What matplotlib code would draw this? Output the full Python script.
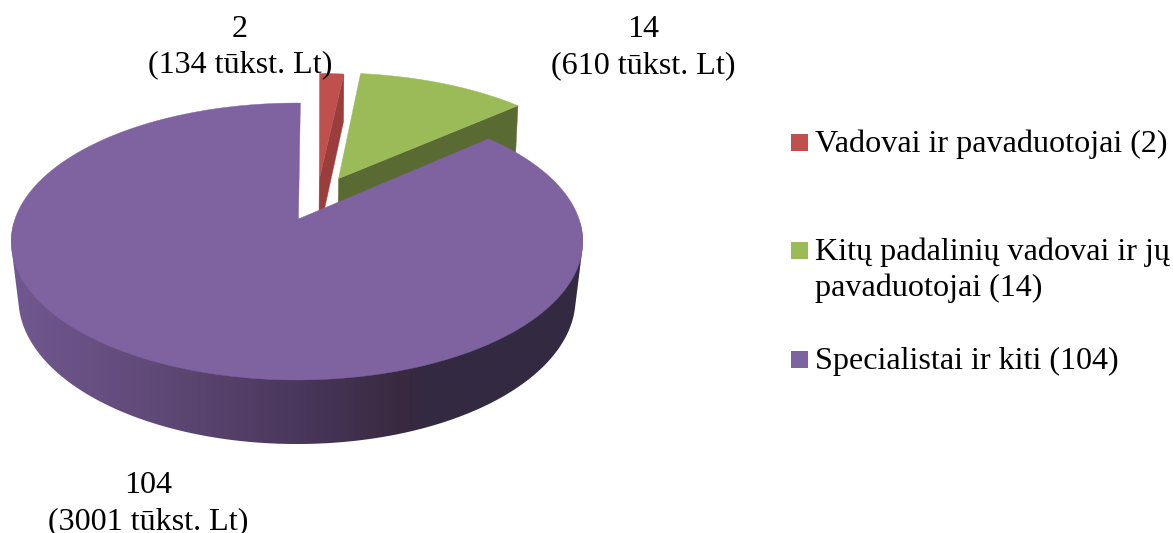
"""Exploded 3D-look pie of staff groups, drawn from polygons."""
import numpy as np
import matplotlib
matplotlib.use("Agg")
import matplotlib.pyplot as plt
from matplotlib.colors import LinearSegmentedColormap
from matplotlib.patches import Polygon, Rectangle

plt.rcParams['font.family'] = ['Liberation Serif', 'DejaVu Serif']

groups = ['Vadovai ir pavaduotojai', 'Kitų padalinių vadovai ir jų\npavaduotojai', 'Specialistai ir kiti']
counts = [2, 14, 104]
amounts = [134, 610, 3001]

colors = ['#C0504D', '#9BBB59', '#7F62A0']
wall_colors = ['#9A3E3C', '#5A6A33', None]
offsets = [(0.083, -0.31), (0.155, -0.315), (0.005, 0.0)]  # explosion on the disk

# perspective of top and bottom face: apex y, a, b, half width
TOP = (219.0, 134.8, -0.1625, 282.0)
BOTTOM = (277.0, 142.3, -0.148, 275.5)
CX = 297.0
ROTATION = 0.8
FS = 23.1


def project(u, v, face):
    apex, a, b, rx = face
    w = 1 + b * v
    return CX + rx * u / w, apex + a * v / w


def arc(a0, a1, off, face, n=300):
    t = np.radians(np.linspace(a0, a1, n))
    return project(off[0] + np.sin(t), off[1] - np.cos(t), face)


def convex_hull(points):
    pts = sorted(set(map(tuple, points)))

    def half(seq):
        out = []
        for p in seq:
            while len(out) > 1 and (out[-1][0] - out[-2][0]) * (p[1] - out[-2][1]) - (out[-1][1] - out[-2][1]) * (p[0] - out[-2][0]) <= 0:
                out.pop()
            out.append(p)
        return out[:-1]

    return np.array(half(pts) + half(pts[::-1]))


fig = plt.figure(figsize=(11.73, 5.33), dpi=100)
ax = fig.add_axes([0, 0, 1, 1])

angles = np.cumsum([0] + counts) / sum(counts) * 360 + ROTATION

# horizontal shading of the round wall
shade = LinearSegmentedColormap.from_list('wall', [
    (0.0, '#72598F'), (0.033, '#70578F'), (0.25, '#604A78'), (0.5, '#4A375C'),
    (0.675, '#38293F'), (0.717, '#332A42'), (1.0, '#332A42')])

for i in range(len(counts)):
    a0, a1 = angles[i], angles[i + 1]
    off = offsets[i]
    tx, ty = arc(a0, a1, off, TOP)
    bx, by = arc(a0, a1, off, BOTTOM)
    ax_t, ay_t = project(off[0], off[1], TOP)
    ax_b, ay_b = project(off[0], off[1], BOTTOM)

    if wall_colors[i] is not None:
        # cut face on the right side of the slice
        ax.fill([ax_t, tx[-1], bx[-1], ax_b], [ay_t, ty[-1], by[-1], ay_b],
                color=wall_colors[i], lw=0.3, zorder=2 + i)
    else:
        # hull of both faces, the top face hides everything but the wall
        fx, fy = arc(92, 268, (0, 0), TOP)
        gx, gy = arc(92, 268, (0, 0), BOTTOM)
        hull = convex_hull(np.c_[np.r_[fx, gx], np.r_[fy, gy]])
        outline = Polygon(hull, closed=True, transform=ax.transData, facecolor='none', edgecolor='none')
        ax.add_patch(outline)
        grad = np.linspace(0, 1, 256).reshape(1, -1)
        im = ax.imshow(grad, cmap=shade, extent=(0, 600, 533, 0), aspect='auto', zorder=2 + i)
        im.set_clip_path(outline)
        # the round edge does not move with the small apex shift
        tx, ty = arc(a0, a1, (0, 0), TOP)

    ax.fill(np.r_[ax_t, tx], np.r_[ay_t, ty], color=colors[i], lw=0.3, zorder=2 + i + 0.5)

ax.set_xlim(0, 1173)
ax.set_ylim(533, 0)
ax.axis('off')

# slice labels
ax.text(240, 37, str(counts[0]), ha='center', va='baseline', fontsize=FS, zorder=10)
ax.text(240, 72, f'({amounts[0]} tūkst. Lt)', ha='center', va='baseline', fontsize=FS, zorder=10)
ax.text(643, 37, str(counts[1]), ha='center', va='baseline', fontsize=FS, zorder=10)
ax.text(643, 73, f'({amounts[1]} tūkst. Lt)', ha='center', va='baseline', fontsize=FS, zorder=10)
ax.text(148, 493, str(counts[2]), ha='center', va='baseline', fontsize=FS, zorder=10)
ax.text(148, 529, f'({amounts[2]} tūkst. Lt)', ha='center', va='baseline', fontsize=FS, zorder=10)

# legend
legend_y = [152, 260, 369]
for name, n, col, y in zip(groups, counts, colors, legend_y):
    ax.add_patch(Rectangle((791, y - 18), 17, 17, facecolor=col, edgecolor='none'))
    lines = f'{name} ({n})'.split('\n')
    for k, line in enumerate(lines):
        ax.text(815, y + 36 * k, line, ha='left', va='baseline', fontsize=FS)

fig.savefig('out.png', dpi=100, facecolor='white')
plt.close(fig)
